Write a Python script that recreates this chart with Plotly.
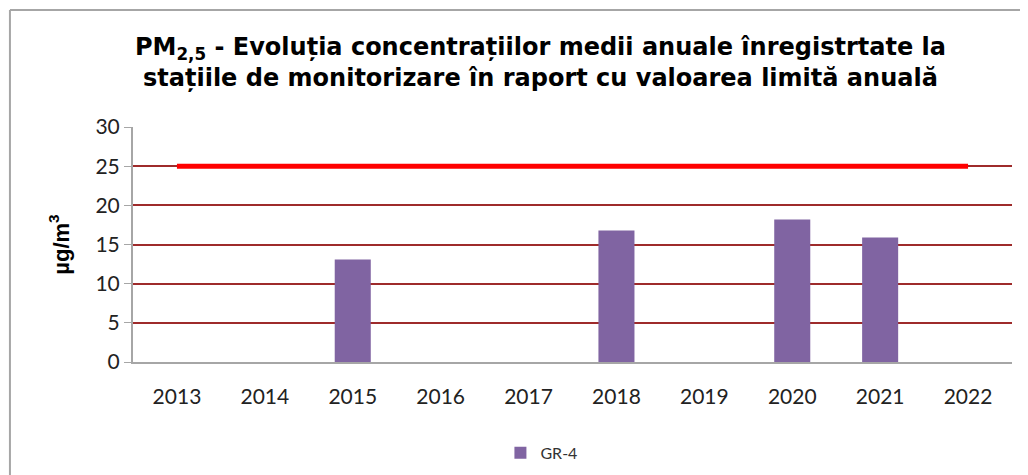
import plotly.graph_objects as go

years = ["2013", "2014", "2015", "2016", "2017", "2018", "2019", "2020", "2021", "2022"]
gr4 = [None, None, 13.1, None, None, 16.8, None, 18.2, 15.9, None]
limit = [25, 25, 25, 25, 25, 25, 25, 25, 25, 25]
y_ticks = [0, 5, 10, 15, 20, 25, 30]

fig = go.Figure()
fig.add_trace(go.Bar(x=years, y=gr4, name="GR-4", marker=dict(color="#8064A2", line=dict(width=0)),
                     width=0.41))
fig.add_trace(go.Scatter(x=years, y=limit, mode="lines", line=dict(color="#FF0000", width=5),
                         showlegend=False, hoverinfo="skip"))

fig.update_layout(
    width=1020, height=467,
    margin=dict(l=125, r=16, t=119, b=113, autoexpand=False),
    paper_bgcolor="white", plot_bgcolor="white",
    title=dict(
        text="PM<sub>2,5</sub> - Evoluția concentrațiilor medii anuale înregistrtate la<br>stațiile de monitorizare în raport cu valoarea limită anuală",
        x=0.522, xanchor="center", y=0.90, yanchor="middle",
        font=dict(family="DejaVu Sans", size=24, color="black", weight="bold"),
    ),
    font=dict(family="Lato, Carlito, Calibri, sans-serif", color="#222"),
    showlegend=True,
    legend=dict(orientation="h", x=0.418, xanchor="left", y=-0.387, yanchor="middle",
                font=dict(size=16, color="#333"), itemwidth=30),
    bargap=0.59,
    shapes=[
        dict(type="line", xref="paper", yref="paper", x0=-0.14, x1=1.2, y0=1.498, y1=1.498,
             line=dict(color="#A6A6A6", width=2)),
        dict(type="line", xref="paper", yref="paper", x0=-0.14, x1=-0.14, y0=1.498, y1=-0.6,
             line=dict(color="#A6A6A6", width=2)),
    ],
)
fig.update_xaxes(
    type="category", showgrid=False, showline=True, linecolor="#A6A6A6", linewidth=2,
    ticks="", tickfont=dict(size=21, color="#222"), ticklabelstandoff=15, automargin=False,
)
fig.update_yaxes(
    range=[0, 30], tickvals=y_ticks, showgrid=True, gridcolor="#9E2B2B", gridwidth=1.5,
    showline=True, linecolor="#A6A6A6", linewidth=2, ticks="outside", ticklen=7, tickcolor="#A6A6A6",
    tickfont=dict(size=21, color="#222"), zeroline=False, automargin=False,
    title=dict(text="µg/m<sup>3</sup>", font=dict(family="Liberation Sans, Arial", size=22, color="black", weight="bold"),
               standoff=20),
)

fig.write_html("out.html")
